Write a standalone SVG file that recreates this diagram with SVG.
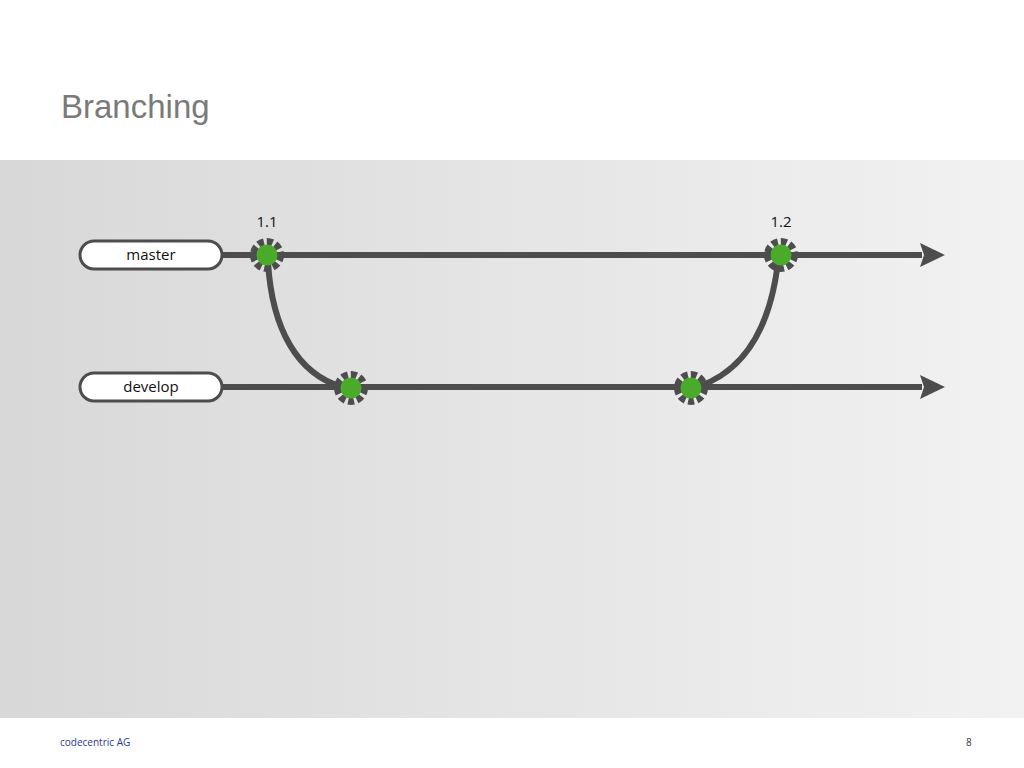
<svg xmlns="http://www.w3.org/2000/svg" width="1024" height="768" viewBox="0 0 1024 768">
<defs>
<linearGradient id="bg" x1="0" y1="0" x2="1" y2="0">
<stop offset="0" stop-color="#d8d8d8"/>
<stop offset="1" stop-color="#f2f2f2"/>
</linearGradient>
<marker id="arr" viewBox="0 0 25 24" refX="2" refY="12" markerWidth="25" markerHeight="24" markerUnits="userSpaceOnUse" orient="auto">
<path d="M0,0 L25,12 L0,24 L4,12 Z" fill="#4d4d4d"/>
</marker>
</defs>
<style>
.line{fill:none;stroke:#4d4d4d;stroke-width:6}
.box{fill:#ffffff;stroke:#4d4d4d;stroke-width:3}
.lbl{font-family:"Open Sans","Liberation Sans",sans-serif;font-size:15px;fill:#111;text-anchor:middle}
.ring{fill:none;stroke:#4d4d4d;stroke-width:7;stroke-dasharray:6 3}
.dot{fill:#4aab2a}
</style>
<rect x="0" y="0" width="1024" height="768" fill="#ffffff"/>
<rect x="0" y="160" width="1024" height="558" fill="url(#bg)"/>
<text x="61" y="118" font-family="Liberation Sans,Arial,sans-serif" font-size="33" fill="#7a7a7a">Branching</text>
<g id="connectors">
<line class="line" x1="222" y1="255" x2="922" y2="255" marker-end="url(#arr)"/>
<line class="line" x1="222" y1="387" x2="922" y2="387" marker-end="url(#arr)"/>
<path class="line" d="M268,262 C272,330 298,374 342,387"/>
<path class="line" d="M700,386 C744,370 770,330 778,262"/>
</g>
<g id="master">
<rect class="box" x="80" y="241" width="142" height="28" rx="14"/>
<text class="lbl" x="151" y="260">master</text>
</g>
<g id="develop">
<rect class="box" x="80" y="373" width="142" height="28" rx="14"/>
<text class="lbl" x="151" y="392">develop</text>
</g>
<g id="c11">
<circle class="ring" cx="267" cy="255" r="13.5"/>
<circle class="dot" cx="267" cy="255" r="10.5"/>
<text class="lbl" x="267" y="227">1.1</text>
</g>
<g id="c12">
<circle class="ring" cx="781" cy="255" r="13.5"/>
<circle class="dot" cx="781" cy="255" r="10.5"/>
<text class="lbl" x="781" y="227">1.2</text>
</g>
<g id="d1">
<circle class="ring" cx="351" cy="388" r="13.5"/>
<circle class="dot" cx="351" cy="388" r="10.5"/>
</g>
<g id="d2">
<circle class="ring" cx="691" cy="388" r="13.5"/>
<circle class="dot" cx="691" cy="388" r="10.5"/>
</g>
<text x="60" y="746" font-family="Open Sans,Liberation Sans,sans-serif" font-size="10" fill="#2b3a8f">codecentric AG</text>
<text x="966" y="746" font-family="Open Sans,Liberation Sans,sans-serif" font-size="10" fill="#333">8</text>
</svg>
